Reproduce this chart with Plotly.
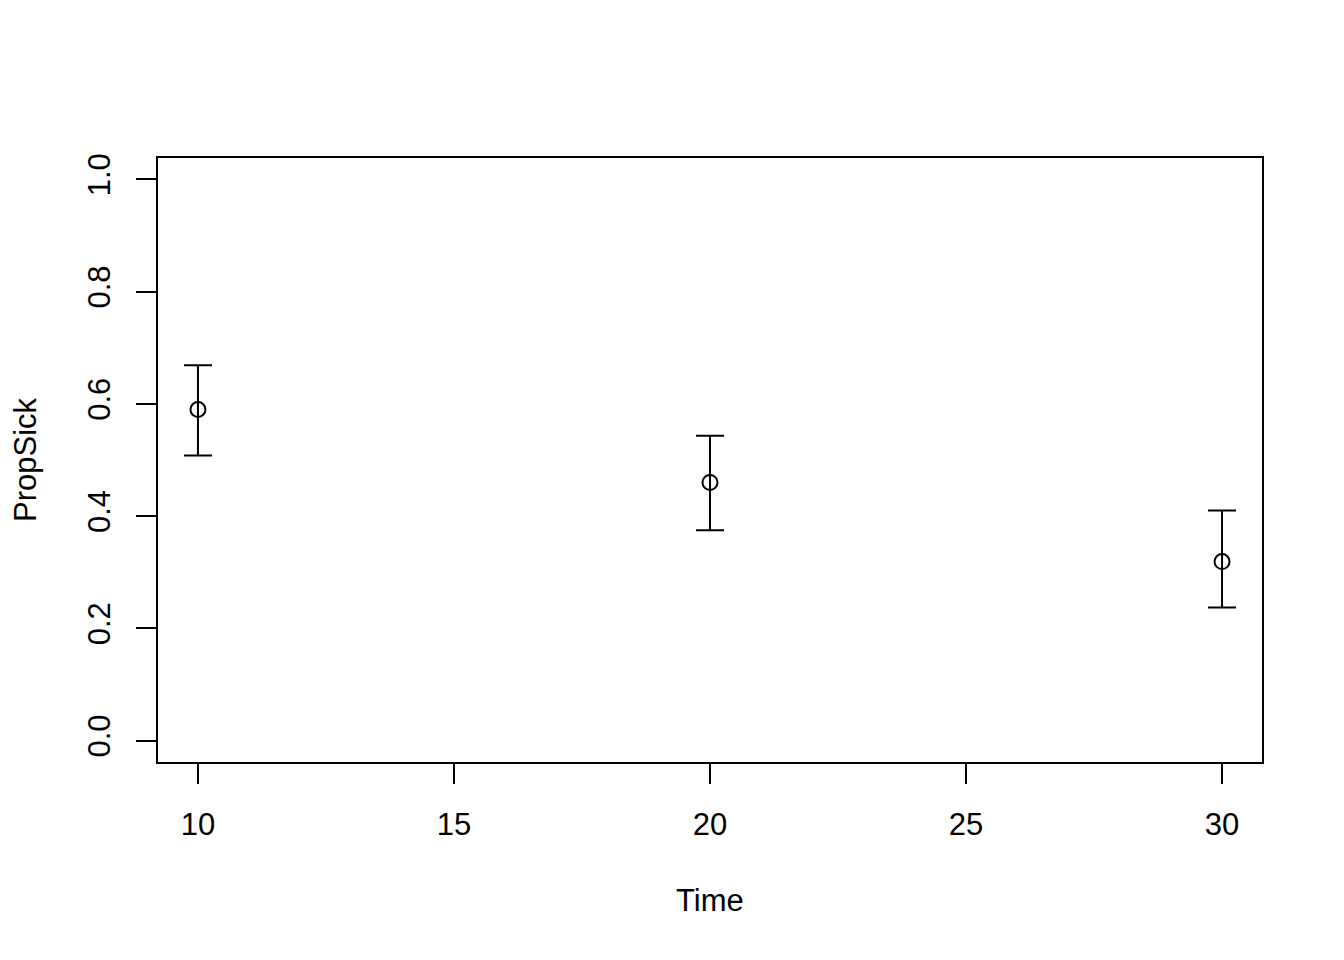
import plotly.graph_objects as go

time = [10, 20, 30]
prop_sick = [0.590, 0.460, 0.319]
upper = [0.669, 0.543, 0.410]
lower = [0.508, 0.375, 0.237]

err_plus = [u - m for u, m in zip(upper, prop_sick)]
err_minus = [m - l for m, l in zip(prop_sick, lower)]

x_ticks = [10, 15, 20, 25, 30]
y_ticks = [0.0, 0.2, 0.4, 0.6, 0.8, 1.0]

FONT = "Liberation Sans, Arial, Helvetica, sans-serif"

fig = go.Figure()
fig.add_trace(go.Scatter(
    x=time, y=prop_sick, mode="markers",
    marker=dict(symbol="circle-open", size=15, color="black", line=dict(width=2, color="black")),
    error_y=dict(type="data", symmetric=False, array=err_plus, arrayminus=err_minus,
                 color="black", thickness=2, width=14),
    showlegend=False,
))

fig.update_layout(
    width=1344, height=960,
    margin=dict(l=149, r=89, t=149, b=205),
    paper_bgcolor="white", plot_bgcolor="white",
    font=dict(family=FONT, size=32, color="black"),
    xaxis=dict(range=[9.2, 30.8], tickvals=x_ticks, ticktext=[str(v) for v in x_ticks],
               ticks="outside", ticklen=20, tickwidth=2, tickcolor="black",
               showgrid=False, zeroline=False, showline=False,
               tickfont=dict(size=31), ticklabelstandoff=14),
    yaxis=dict(range=[-0.04, 1.04], tickvals=y_ticks, ticktext=[f"{v:.1f}" for v in y_ticks],
               ticks="outside", ticklen=20, tickwidth=2, tickcolor="black",
               showgrid=False, zeroline=False, showline=False,
               tickangle=-90, tickfont=dict(size=31), ticklabelstandoff=14),
    shapes=[dict(type="rect", xref="paper", yref="paper", x0=0, y0=0, x1=1, y1=1,
                 line=dict(color="black", width=2), fillcolor="rgba(0,0,0,0)")],
    annotations=[
        dict(text="Time", xref="paper", yref="paper", x=0.5, y=0, yanchor="middle",
             xanchor="center", yshift=-137, showarrow=False, font=dict(size=31)),
        dict(text="PropSick", xref="paper", yref="paper", x=0, y=0.5, xanchor="center",
             yanchor="middle", xshift=-132, textangle=-90, showarrow=False, font=dict(size=31)),
    ],
)

fig.write_html("out.html")
